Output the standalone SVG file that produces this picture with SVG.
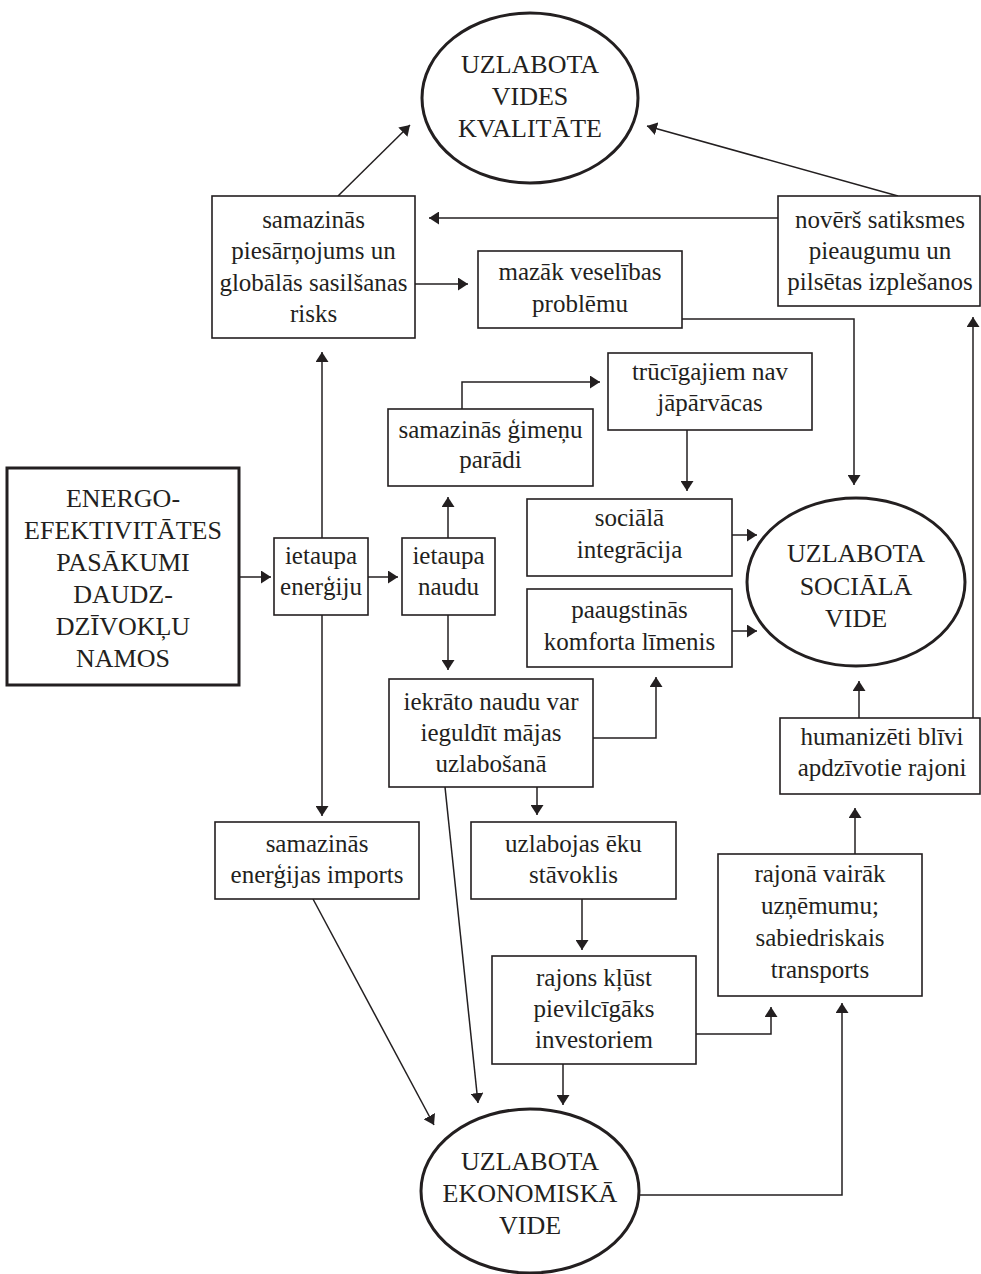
<svg xmlns="http://www.w3.org/2000/svg" width="981" height="1274" viewBox="0 0 981 1274">
<defs>
<style>
.bx{fill:#fff;stroke:#231f20;stroke-width:1.6}
.thick{fill:#fff;stroke:#231f20;stroke-width:3}
.el{fill:#fff;stroke:#231f20;stroke-width:3}
.t{font-family:"Liberation Serif","Times New Roman",serif;font-size:25px;fill:#231f20;text-anchor:middle}
.c{font-family:"Liberation Serif","Times New Roman",serif;font-size:26px;fill:#231f20;text-anchor:middle}
.ln{fill:none;stroke:#231f20;stroke-width:1.5}
</style>
<marker id="ah" markerUnits="userSpaceOnUse" markerWidth="11" markerHeight="13" refX="10" refY="6.5" orient="auto">
<path d="M0,0 L10,6.5 L0,13 z" fill="#231f20"/>
</marker>
</defs>
<rect width="981" height="1274" fill="#fff"/>

<g id="connectors">
<path class="ln" marker-end="url(#ah)" d="M338,196 L410,125"/>
<path class="ln" marker-end="url(#ah)" d="M898,196 L647,126"/>
<path class="ln" marker-end="url(#ah)" d="M778,218 L429,218"/>
<path class="ln" marker-end="url(#ah)" d="M415,284 L468,284"/>
<path class="ln" marker-end="url(#ah)" d="M682,319 L854,319 L854,485"/>
<path class="ln" marker-end="url(#ah)" d="M973,718 L973,317"/>
<path class="ln" marker-end="url(#ah)" d="M239,577 L271,577"/>
<path class="ln" marker-end="url(#ah)" d="M368,577 L398,577"/>
<path class="ln" marker-end="url(#ah)" d="M322,538 L322,352"/>
<path class="ln" marker-end="url(#ah)" d="M322,615 L322,816"/>
<path class="ln" marker-end="url(#ah)" d="M448,538 L448,497"/>
<path class="ln" marker-end="url(#ah)" d="M462,409 L462,382 L600,382"/>
<path class="ln" marker-end="url(#ah)" d="M448,615 L448,670"/>
<path class="ln" marker-end="url(#ah)" d="M687,430 L687,491"/>
<path class="ln" marker-end="url(#ah)" d="M732,535 L757,535"/>
<path class="ln" marker-end="url(#ah)" d="M732,631 L757,631"/>
<path class="ln" marker-end="url(#ah)" d="M593,738 L656,738 L656,677"/>
<path class="ln" marker-end="url(#ah)" d="M859,718 L859,681"/>
<path class="ln" marker-end="url(#ah)" d="M537,787 L537,815"/>
<path class="ln" marker-end="url(#ah)" d="M313,899 L434,1125"/>
<path class="ln" marker-end="url(#ah)" d="M445,787 L478,1103"/>
<path class="ln" marker-end="url(#ah)" d="M582,899 L582,950"/>
<path class="ln" marker-end="url(#ah)" d="M855,854 L855,808"/>
<path class="ln" marker-end="url(#ah)" d="M696,1034 L771,1034 L771,1007"/>
<path class="ln" marker-end="url(#ah)" d="M563,1064 L563,1105"/>
<path class="ln" marker-end="url(#ah)" d="M639,1195 L842,1195 L842,1003"/>
</g>

<g id="vides">
<ellipse class="el" cx="530" cy="98" rx="108" ry="85"/>
<text class="c" x="530" y="73">UZLABOTA</text>
<text class="c" x="530" y="105">VIDES</text>
<text class="c" x="530" y="137">KVALITĀTE</text>
</g>

<g id="piesarnojums">
<rect class="bx" x="212" y="196" width="203" height="142"/>
<text class="t" x="313.5" y="228">samazinās</text>
<text class="t" x="313.5" y="259">piesārņojums un</text>
<text class="t" x="313.5" y="291">globālās sasilšanas</text>
<text class="t" x="313.5" y="322">risks</text>
</g>

<g id="veseliba">
<rect class="bx" x="478" y="251" width="204" height="77"/>
<text class="t" x="580" y="280">mazāk veselības</text>
<text class="t" x="580" y="312">problēmu</text>
</g>

<g id="noverss">
<rect class="bx" x="778" y="196" width="202" height="110"/>
<text class="t" x="880" y="228">novērš satiksmes</text>
<text class="t" x="880" y="259">pieaugumu un</text>
<text class="t" x="880" y="290">pilsētas izplešanos</text>
</g>

<g id="energo">
<rect class="thick" x="7" y="468" width="232" height="217"/>
<text class="c" x="123" y="507">ENERGO-</text>
<text class="c" x="123" y="539">EFEKTIVITĀTES</text>
<text class="c" x="123" y="571">PASĀKUMI</text>
<text class="c" x="123" y="603">DAUDZ-</text>
<text class="c" x="123" y="635">DZĪVOKĻU</text>
<text class="c" x="123" y="667">NAMOS</text>
</g>

<g id="ietaupa-energiju">
<rect class="bx" x="274" y="538" width="94" height="77"/>
<text class="t" x="321" y="564">ietaupa</text>
<text class="t" x="321" y="595">enerģiju</text>
</g>

<g id="ietaupa-naudu">
<rect class="bx" x="402" y="538" width="93" height="77"/>
<text class="t" x="448.5" y="564">ietaupa</text>
<text class="t" x="448.5" y="595">naudu</text>
</g>

<g id="paradi">
<rect class="bx" x="388" y="409" width="205" height="77"/>
<text class="t" x="490.5" y="438">samazinās ģimeņu</text>
<text class="t" x="490.5" y="468">parādi</text>
</g>

<g id="trucigajiem">
<rect class="bx" x="608" y="353" width="204" height="77"/>
<text class="t" x="710" y="380">trūcīgajiem nav</text>
<text class="t" x="710" y="411">jāpārvācas</text>
</g>

<g id="integracija">
<rect class="bx" x="527" y="499" width="205" height="77"/>
<text class="t" x="629.5" y="526">sociālā</text>
<text class="t" x="629.5" y="558">integrācija</text>
</g>

<g id="komforts">
<rect class="bx" x="527" y="589" width="205" height="78"/>
<text class="t" x="629.5" y="618">paaugstinās</text>
<text class="t" x="629.5" y="650">komforta līmenis</text>
</g>

<g id="sociala">
<ellipse class="el" cx="856" cy="582" rx="109" ry="84"/>
<text class="c" x="856" y="562">UZLABOTA</text>
<text class="c" x="856" y="595">SOCIĀLĀ</text>
<text class="c" x="856" y="627">VIDE</text>
</g>

<g id="iekrato">
<rect class="bx" x="389" y="679" width="204" height="108"/>
<text class="t" x="491" y="710">iekrāto naudu var</text>
<text class="t" x="491" y="741">ieguldīt mājas</text>
<text class="t" x="491" y="772">uzlabošanā</text>
</g>

<g id="humanizeti">
<rect class="bx" x="780" y="718" width="200" height="76"/>
<text class="t" x="882" y="745">humanizēti blīvi</text>
<text class="t" x="882" y="776">apdzīvotie rajoni</text>
</g>

<g id="imports">
<rect class="bx" x="215" y="822" width="204" height="77"/>
<text class="t" x="317" y="852">samazinās</text>
<text class="t" x="317" y="883">enerģijas imports</text>
</g>

<g id="eku-stavoklis">
<rect class="bx" x="471" y="822" width="205" height="77"/>
<text class="t" x="573.5" y="852">uzlabojas ēku</text>
<text class="t" x="573.5" y="883">stāvoklis</text>
</g>

<g id="rajonaUznemumi">
<rect class="bx" x="718" y="854" width="204" height="142"/>
<text class="t" x="820" y="882">rajonā vairāk</text>
<text class="t" x="820" y="914">uzņēmumu;</text>
<text class="t" x="820" y="946">sabiedriskais</text>
<text class="t" x="820" y="978">transports</text>
</g>

<g id="rajons">
<rect class="bx" x="492" y="956" width="204" height="108"/>
<text class="t" x="594" y="986">rajons kļūst</text>
<text class="t" x="594" y="1017">pievilcīgāks</text>
<text class="t" x="594" y="1048">investoriem</text>
</g>

<g id="ekonomiska">
<ellipse class="el" cx="530" cy="1191" rx="109" ry="82"/>
<text class="c" x="530" y="1170">UZLABOTA</text>
<text class="c" x="530" y="1202">EKONOMISKĀ</text>
<text class="c" x="530" y="1234">VIDE</text>
</g>
</svg>
